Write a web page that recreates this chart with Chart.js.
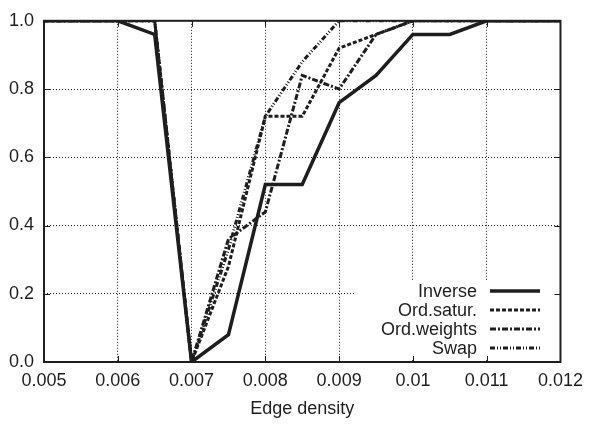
<!DOCTYPE html>
<html>
<head>
<meta charset="utf-8">
<script src="https://cdn.jsdelivr.net/npm/chart.js@4.4.0/dist/chart.umd.min.js"></script>
<style>
  html, body { margin: 0; padding: 0; background: #fff; }
  #wrap { width: 591px; height: 424px; }
</style>
</head>
<body>
<div id="wrap"><canvas id="chart" width="591" height="424"></canvas></div>
<script>
// Data
const edgeDensity = [0.005, 0.0055, 0.006, 0.0065, 0.007, 0.0075, 0.008, 0.0085, 0.009, 0.0095, 0.01, 0.0105, 0.011, 0.0115, 0.012];
const inverse     = [1, 1, 1, 0.96, 0, 0.08, 0.52, 0.52, 0.76, 0.84, 0.96, 0.96, 1, 1, 1];
const ordSatur    = [1, 1, 1, 1, 0, 0.28, 0.72, 0.72, 0.92, 0.96, 1, 1, 1, 1, 1];
const ordWeights  = [1, 1, 1, 1, 0, 0.36, 0.44, 0.84, 0.80, 0.96, 1, 1, 1, 1, 1];
const swap        = [1, 1, 1, 1, 0, 0.33, 0.72, 0.88, 1, 1, 1, 1, 1, 1, 1];

const xTicks = [0.005, 0.006, 0.007, 0.008, 0.009, 0.01, 0.011, 0.012];
const xTickLabels = ['0.005', '0.006', '0.007', '0.008', '0.009', '0.01', '0.011', '0.012'];
const yTicks = [0, 0.2, 0.4, 0.6, 0.8, 1.0];

const FONT = '"Liberation Sans", Arial, Helvetica, sans-serif';
const INK = '#1e1e1e';

function toPoints(ys) {
    return edgeDensity.map((x, i) => ({ x: x, y: ys[i] }));
}

function series(label, ys, dash, width) {
    return {
        label: label,
        data: toPoints(ys),
        borderColor: INK,
        backgroundColor: INK,
        borderWidth: width,
        borderDash: dash,
        pointRadius: 0,
        tension: 0,
        fill: false
    };
}

// Frame, inward ticks and the gnuplot-like legend at the lower right
const framePlugin = {
    id: 'frame',
    afterDatasetsDraw(chart) {
        const ctx = chart.ctx;
        const a = chart.chartArea;
        const xs = chart.scales.x;
        const ys = chart.scales.y;
        ctx.save();

        // legend
        const rows = chart.data.datasets;
        const textRight = 477;
        const lineX0 = 490, lineX1 = 540;
        const rowY0 = 291, rowStep = 19;
        ctx.fillStyle = '#fff';
        ctx.fillRect(355, rowY0 - 10, a.right - 355 - 2, a.bottom - rowY0 + 8);
        ctx.font = '18px ' + FONT;
        ctx.textAlign = 'right';
        ctx.textBaseline = 'middle';
        rows.forEach((ds, i) => {
            const y = rowY0 + i * rowStep;
            ctx.fillStyle = INK;
            ctx.fillText(ds.label, textRight, y + 1);
            ctx.strokeStyle = INK;
            ctx.lineWidth = ds.borderWidth;
            ctx.setLineDash(ds.borderDash || []);
            ctx.beginPath();
            ctx.moveTo(lineX0, y);
            ctx.lineTo(lineX1, y);
            ctx.stroke();
        });
        ctx.setLineDash([]);

        // inward tick marks
        ctx.strokeStyle = INK;
        ctx.lineWidth = 1;
        ctx.beginPath();
        xTicks.forEach(v => {
            const px = Math.round(xs.getPixelForValue(v)) + 0.5;
            ctx.moveTo(px, a.bottom);
            ctx.lineTo(px, a.bottom - 6);
            ctx.moveTo(px, a.top);
            ctx.lineTo(px, a.top + 6);
        });
        yTicks.forEach(v => {
            const py = Math.round(ys.getPixelForValue(v)) + 0.5;
            ctx.moveTo(a.left, py);
            ctx.lineTo(a.left + 6, py);
            ctx.moveTo(a.right, py);
            ctx.lineTo(a.right - 6, py);
        });
        ctx.stroke();

        // frame
        ctx.lineWidth = 2;
        ctx.strokeRect(a.left, a.top, a.right - a.left, a.bottom - a.top);
        ctx.restore();
    }
};

new Chart(document.getElementById('chart').getContext('2d'), {
    type: 'line',
    data: {
        datasets: [
            series('Inverse', inverse, [], 3.5),
            series('Ord.satur.', ordSatur, [4, 2], 3),
            series('Ord.weights', ordWeights, [6, 2, 2, 2], 3),
            series('Swap', swap, [5, 2, 1, 2, 1, 2], 3)
        ]
    },
    options: {
        responsive: false,
        animation: false,
        events: [],
        layout: { padding: { top: 15, right: 29, left: 0, bottom: 0 } },
        plugins: {
            legend: { display: false },
            tooltip: { enabled: false }
        },
        scales: {
            x: {
                type: 'linear',
                min: 0.005,
                max: 0.012,
                afterBuildTicks(scale) {
                    scale.ticks = xTicks.map(v => ({ value: v }));
                },
                afterFit(scale) { scale.height = 62; },
                ticks: {
                    color: INK,
                    font: { family: FONT, size: 18 },
                    padding: 8,
                    maxRotation: 0,
                    autoSkip: false,
                    callback: (v, i) => xTickLabels[i]
                },
                grid: {
                    color: (c) => (c.tick && (c.tick.value === 0.005 || c.tick.value === 0.012)) ? 'rgba(0,0,0,0)' : INK,
                    lineWidth: 1,
                    drawTicks: false
                },
                border: { display: false, dash: [1, 2] },
                title: {
                    display: true,
                    text: 'Edge density',
                    color: INK,
                    font: { family: FONT, size: 18 },
                    padding: { top: 6, bottom: 4 }
                }
            },
            y: {
                type: 'linear',
                min: 0,
                max: 1,
                afterBuildTicks(scale) {
                    scale.ticks = yTicks.map(v => ({ value: v }));
                },
                afterFit(scale) { scale.width = 44; },
                ticks: {
                    color: INK,
                    font: { family: FONT, size: 18 },
                    padding: 10,
                    callback: (v) => Number(v).toFixed(1)
                },
                grid: {
                    color: (c) => (c.tick && (c.tick.value === 0 || c.tick.value === 1)) ? 'rgba(0,0,0,0)' : INK,
                    lineWidth: 1,
                    drawTicks: false
                },
                border: { display: false, dash: [1, 2] }
            }
        }
    },
    plugins: [framePlugin]
});
</script>
</body>
</html>
